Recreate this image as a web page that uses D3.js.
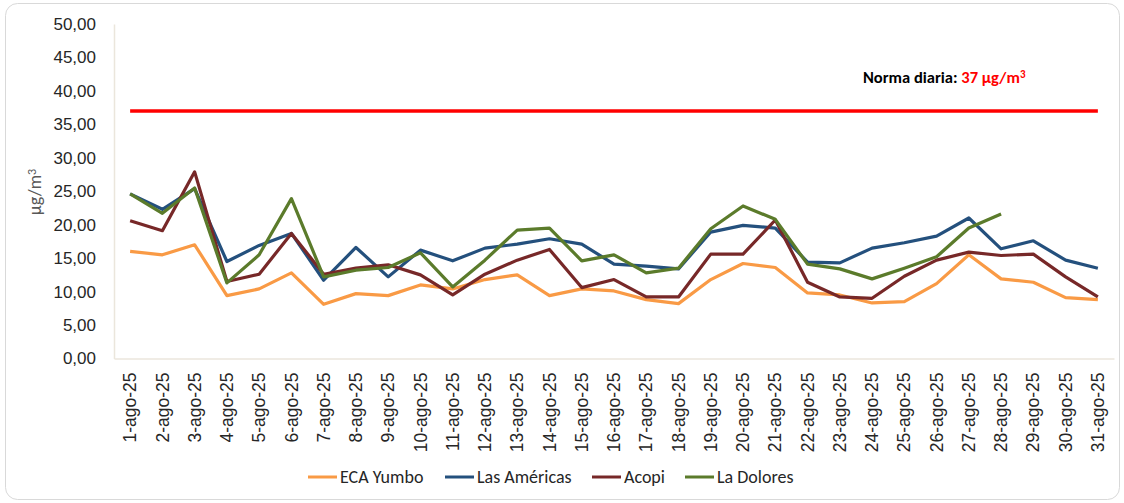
<!DOCTYPE html>
<html>
<head>
<meta charset="utf-8">
<script src="https://cdn.jsdelivr.net/npm/d3@7"></script>
<style>
  body { margin: 0; background: #fff; }
  svg { font-family: Carlito, Lato, "Open Sans", sans-serif; }
</style>
</head>
<body>
<div id="chart"></div>
<script>
// Fechas (agosto 2025)
var days = ["1-ago-25","2-ago-25","3-ago-25","4-ago-25","5-ago-25","6-ago-25","7-ago-25","8-ago-25",
  "9-ago-25","10-ago-25","11-ago-25","12-ago-25","13-ago-25","14-ago-25","15-ago-25","16-ago-25",
  "17-ago-25","18-ago-25","19-ago-25","20-ago-25","21-ago-25","22-ago-25","23-ago-25","24-ago-25",
  "25-ago-25","26-ago-25","27-ago-25","28-ago-25","29-ago-25","30-ago-25","31-ago-25"];

var ecaYumbo = [16.0,15.5,17.0,9.4,10.4,12.8,8.1,9.7,9.4,11.0,10.4,11.8,12.5,9.4,10.4,10.1,
  8.8,8.2,11.8,14.2,13.6,9.8,9.5,8.3,8.5,11.2,15.5,11.9,11.4,9.1,8.8];
var lasAmericas = [24.6,22.3,25.4,14.5,16.9,18.7,11.7,16.6,12.2,16.2,14.6,16.5,17.1,17.9,17.1,14.1,
  13.8,13.4,18.9,19.9,19.5,14.4,14.3,16.5,17.3,18.3,21.0,16.4,17.6,14.7,13.5];
var acopi = [20.6,19.1,27.9,11.5,12.6,18.7,12.6,13.5,14.0,12.5,9.5,12.6,14.7,16.3,10.6,11.8,
  9.2,9.2,15.6,15.6,20.7,11.4,9.2,9.0,12.3,14.7,15.9,15.4,15.6,12.2,9.2];
var laDolores = [24.6,21.7,25.5,11.3,15.5,23.9,12.2,13.2,13.6,15.8,10.7,14.7,19.2,19.5,14.6,15.5,
  12.8,13.5,19.4,22.8,20.8,14.1,13.4,11.9,13.5,15.2,19.5,21.6,null,null,null];

var norma = 37;
var yTicks = [0,5,10,15,20,25,30,35,40,45,50];

var seriesNames = ["ECA Yumbo","Las Américas","Acopi","La Dolores"];
var seriesColors = ["#F99A45","#24507D","#772828","#5B7B2B"];
var seriesValues = [ecaYumbo, lasAmericas, acopi, laDolores];

var W = 1124, H = 503;
var margin = { left: 114, right: 10, top: 24, bottom: 144.5 };

var svg = d3.select("#chart").append("svg")
  .attr("width", W).attr("height", H);

// marco del gráfico
svg.append("rect")
  .attr("x", 5.5).attr("y", 3.5).attr("width", 1114).attr("height", 496)
  .attr("rx", 12).attr("fill", "#fff").attr("stroke", "#d9d9d9");

var x = d3.scaleBand().domain(days).range([margin.left, W - margin.right]);
var y = d3.scaleLinear().domain([0, 50]).range([H - margin.bottom, margin.top]);

var fmt = function(d) { return d3.format(".2f")(d).replace(".", ","); };

// eje Y
var gy = svg.append("g")
  .attr("transform", "translate(" + margin.left + ",0)")
  .call(d3.axisLeft(y).tickValues(yTicks).tickFormat(fmt).tickSize(0).tickPadding(18));
gy.select(".domain").attr("stroke", "#ebe6dc").attr("stroke-width", 1.5);
gy.selectAll("text").attr("font-size", 17).attr("fill", "#262626");

// eje X
var gx = svg.append("g")
  .attr("transform", "translate(0," + y(0) + ")")
  .call(d3.axisBottom(x).tickSize(0));
gx.select(".domain").attr("stroke", "#ebe6dc").attr("stroke-width", 1.5);
gx.selectAll("text")
  .attr("transform", "rotate(-90)")
  .attr("x", -14).attr("y", 0).attr("dy", "0.35em")
  .attr("text-anchor", "end")
  .attr("font-size", 17.5).attr("fill", "#262626");

// título eje Y
var yt = svg.append("text")
  .attr("transform", "translate(41,192) rotate(-90)")
  .attr("text-anchor", "middle")
  .attr("font-size", 18).attr("fill", "#595959");
yt.append("tspan").text("µg/m");
yt.append("tspan").attr("dy", "-0.45em").attr("font-size", 12).text("3");

// norma diaria
var normaData = days.map(function() { return norma; });
svg.append("path")
  .datum(normaData)
  .attr("fill", "none").attr("stroke", "#ff0000").attr("stroke-width", 3.5)
  .attr("d", d3.line()
    .x(function(d, i) { return x(days[i]) + x.bandwidth() / 2; })
    .y(function(d) { return y(d); }));

var nt = svg.append("text")
  .attr("x", 863).attr("y", 83)
  .attr("font-size", 16.5).attr("font-weight", "bold").attr("fill", "#000");
nt.append("tspan").text("Norma diaria: ");
nt.append("tspan").attr("fill", "#ff0000").text(norma + " µg/m");
nt.append("tspan").attr("fill", "#ff0000").attr("dy", "-0.45em").attr("font-size", 11).text("3");

// series
var line = d3.line()
  .defined(function(d) { return d != null; })
  .x(function(d, i) { return x(days[i]) + x.bandwidth() / 2; })
  .y(function(d) { return y(d); });

seriesValues.forEach(function(vals, k) {
  svg.append("path")
    .datum(vals)
    .attr("fill", "none")
    .attr("stroke", seriesColors[k])
    .attr("stroke-width", 3.2)
    .attr("stroke-linejoin", "round")
    .attr("d", line);
});

// leyenda
var legendX = [308, 445, 592, 685];
var leg = svg.append("g").attr("transform", "translate(0,477)");
seriesNames.forEach(function(name, k) {
  leg.append("line")
    .attr("x1", legendX[k]).attr("x2", legendX[k] + 29)
    .attr("y1", 0).attr("y2", 0)
    .attr("stroke", seriesColors[k]).attr("stroke-width", 3);
  leg.append("text")
    .attr("x", legendX[k] + 32).attr("y", 0).attr("dy", "0.35em")
    .attr("font-size", 18).attr("fill", "#262626")
    .text(name);
});
</script>
</body>
</html>
